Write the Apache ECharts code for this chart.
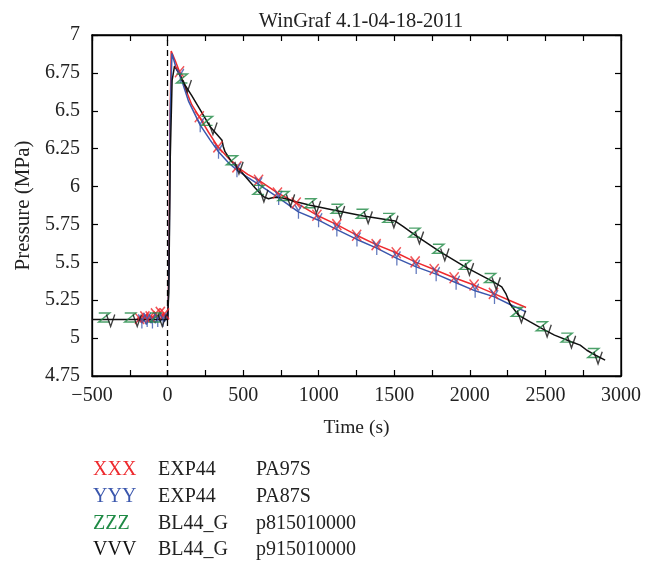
<!DOCTYPE html>
<html><head><meta charset="utf-8">
<script src="https://cdn.jsdelivr.net/npm/echarts@6/dist/echarts.min.js"></script>
<style>html,body{margin:0;padding:0;background:#fff}#c{width:658px;height:563px}</style>
</head><body><div id="c"></div>
<script>
// ---- data ----
var titleText = 'WinGraf 4.1-04-18-2011';
var xName = 'Time (s)';
var yName = 'Pressure (MPa)';
var xTicks = {min: -500, max: 3000, step: 250, labelStep: 500};
var yTicks = {min: 4.75, max: 7, step: 0.25};

var redLine = [[-205,5.12],[-190,5.14],[-178,5.11],[-165,5.15],[-150,5.12],[-138,5.16],[-122,5.11],[-108,5.15],[-95,5.13],[-80,5.17],[-66,5.12],[-52,5.18],[-40,5.13],[-28,5.17],[-15,5.14],[-5,5.16],[2,5.13],[10,5.6],[16,6.4],[24,6.895],[32,6.89],[51,6.83],[79,6.757],[120,6.64],[160,6.54],[210,6.46],[270,6.36],[333,6.262],[400,6.19],[459,6.13],[530,6.08],[602,6.042],[727,5.958],[851,5.892],[988,5.811],[1120,5.749],[1251,5.679],[1380,5.617],[1513,5.563],[1638,5.503],[1764,5.453],[1896,5.398],[2028,5.35],[2156,5.295],[2260,5.25],[2372,5.202]];
var redMarks = [[-185,5.13],[-150,5.14],[-115,5.14],[-80,5.16],[-48,5.17],[-20,5.16],[79,6.757],[210,6.46],[333,6.262],[459,6.13],[602,6.042],[727,5.958],[851,5.892],[988,5.811],[1120,5.749],[1251,5.679],[1380,5.617],[1513,5.563],[1638,5.503],[1764,5.453],[1896,5.398],[2028,5.35],[2156,5.295]];

var blueLine = [[-200,5.11],[-185,5.13],[-170,5.10],[-155,5.12],[-140,5.09],[-125,5.13],[-110,5.10],[-95,5.12],[-80,5.10],[-65,5.14],[-50,5.11],[-35,5.13],[-20,5.11],[-8,5.14],[2,5.12],[10,5.5],[18,6.5],[29,6.878],[40,6.84],[60,6.77],[84,6.73],[140,6.56],[216,6.405],[280,6.31],[337,6.229],[400,6.16],[459,6.108],[530,6.06],[602,6.015],[735,5.925],[866,5.833],[999,5.778],[1120,5.716],[1253,5.651],[1384,5.594],[1517,5.526],[1645,5.47],[1777,5.422],[1909,5.365],[2035,5.312],[2163,5.272],[2270,5.22],[2372,5.173]];
var blueMarks = [[-170,5.11],[-135,5.12],[-100,5.11],[-65,5.12],[-30,5.12],[84,6.73],[216,6.405],[337,6.229],[459,6.108],[602,6.015],[735,5.925],[866,5.833],[999,5.778],[1120,5.716],[1253,5.651],[1384,5.594],[1517,5.526],[1645,5.47],[1777,5.422],[1909,5.365],[2035,5.312],[2163,5.272]];

var blackLine = [[-500,5.123],[-300,5.123],[-100,5.123],[0,5.123],[8,5.3],[18,6.2],[30,6.7],[46,6.794],[70,6.76],[102,6.69],[160,6.6],[220,6.5],[282,6.394],[330,6.34],[360,6.306],[368,6.266],[380,6.23],[420,6.17],[459,6.13],[520,6.06],[580,5.99],[613,5.954],[640,5.93],[668,5.92],[700,5.928],[745,5.93],[850,5.9],[944,5.877],[1120,5.84],[1296,5.805],[1506,5.772],[1560,5.735],[1638,5.68],[1804,5.569],[1969,5.47],[2156,5.371],[2211,5.338],[2240,5.29],[2266,5.225],[2321,5.152],[2399,5.107],[2487,5.058],[2560,5.02],[2670,4.976],[2730,4.954],[2774,4.92],[2835,4.885],[2895,4.855]];
var greenMarks = [[-419,5.123],[-247,5.123],[-81,5.123],[95,6.70],[261,6.42],[426,6.16],[602,5.965],[767,5.925],[944,5.877],[1120,5.84],[1286,5.807],[1462,5.78],[1634,5.683],[1792,5.577],[1969,5.47],[2134,5.383],[2311,5.16],[2476,5.065],[2641,4.99],[2817,4.888]];
var blackMarks = [[-390,5.123],[-214,5.123],[-48,5.123],[117,6.67],[287,6.39],[459,6.13],[624,5.945],[800,5.915],[972,5.872],[1131,5.838],[1314,5.803],[1484,5.775],[1653,5.67],[1821,5.558],[1984,5.462],[2161,5.368],[2328,5.148],[2498,5.055],[2659,4.982],[2835,4.877]];

var legendKeys = ['XXX','YYY','ZZZ','VVV'];
var legendSource = ['EXP44','EXP44','BL44_G','BL44_G'];
var legendSensor = ['PA97S','PA87S','p815010000','p915010000'];
var seriesColors = ['#ee2a2e','#3b57ad','#1f8a45','#111111'];

// ---- chart ----
var FONT = 'Liberation Serif';
var chart = echarts.init(document.getElementById('c'), null, {renderer:'canvas'});
// letter-shaped marker paths (retraced so that implicit closing adds no extra stroke)
var sym = {
  X: 'path://M0 0L10 11L0 0M10 0L0 11L10 0',
  Y: 'path://M0 0L5 6L10 0L5 6L5 14L5 6L0 0',
  Z: 'path://M0 0L10 0L0 9L10 9L0 9L10 0L0 0',
  V: 'path://M0 0L5 12L10 0L5 12L0 0'
};
function lineSeries(data, color, z) {
  return {type:'line', data:data, showSymbol:false, symbol:'none', smooth:false,
    lineStyle:{color:color, width:1.5}, z:z, silent:true, animation:false};
}
function markSeries(data, color, symbol, size, offset) {
  return {type:'scatter', data:data, symbol:symbol, symbolSize:size, symbolKeepAspect:true,
    symbolOffset:offset || [0,0],
    itemStyle:{color:'rgba(0,0,0,0)', borderColor:color, borderWidth:1.5}, z:10, silent:true, animation:false};
}
var series = [
  lineSeries(redLine, seriesColors[0], 3),
  lineSeries(blueLine, seriesColors[1], 4),
  lineSeries(blackLine, seriesColors[3], 5),
  markSeries(redMarks, seriesColors[0], sym.X, [10,11]),
  markSeries(blueMarks, seriesColors[1], sym.Y, [10,14]),
  markSeries(greenMarks, seriesColors[2], sym.Z, [11,10], [0,-2]),
  markSeries(blackMarks, seriesColors[3], sym.V, [10,12], [2,1])
];
series[2].markLine = {silent:true, symbol:['none','none'], label:{show:false},
  lineStyle:{color:'#000', type:[6,4], width:1.3}, data:[{xAxis:0}], animation:false};

var graphics = [];
var cols = [93, 158, 256];
var rowsY = [470, 497, 523.5, 550];
for (var i = 0; i < legendKeys.length; i++) {
  var texts = [legendKeys[i], legendSource[i], legendSensor[i]];
  for (var j = 0; j < 3; j++) {
    graphics.push({type:'text', x:cols[j], y:rowsY[i], silent:true,
      style:{text:texts[j], font:'20px "' + FONT + '"', fill: j === 0 ? seriesColors[i] : '#222', verticalAlign:'middle', align:'left'}});
  }
}

function fmtX(v) {
  if (Math.round(v) % xTicks.labelStep !== 0) return '';
  return String(v).replace('-', '\u2212');
}
var axisCommon = {
  axisLine:{show:true, onZero:false, lineStyle:{color:'#000', width:1.3}},
  axisTick:{show:true, inside:true, length:6, lineStyle:{color:'#000', width:1.2}},
  splitLine:{show:false}
};
var option = {
  animation:false,
  backgroundColor:'#fff',
  title:{text:titleText, left:356, top:6, textAlign:'center',
    textStyle:{fontFamily:FONT, fontSize:20.5, fontWeight:'normal', color:'#222'}},
  grid:{left:92, right:37, top:35, bottom:187, show:true, borderColor:'#000', borderWidth:1.3},
  xAxis:[
    Object.assign({type:'value', min:xTicks.min, max:xTicks.max, interval:xTicks.step, position:'bottom',
      name:xName, nameLocation:'middle', nameGap:42,
      nameTextStyle:{fontFamily:FONT, fontSize:19.5, color:'#222'},
      axisLabel:{formatter:fmtX, fontFamily:FONT, fontSize:20, color:'#222', margin:10, showMinLabel:true, showMaxLabel:true}}, axisCommon),
    Object.assign({type:'value', min:xTicks.min, max:xTicks.max, interval:xTicks.step, position:'top',
      axisLabel:{show:false}}, axisCommon)
  ],
  yAxis:[
    Object.assign({type:'value', min:yTicks.min, max:yTicks.max, interval:yTicks.step, position:'left',
      name:yName, nameLocation:'middle', nameGap:55,
      nameTextStyle:{fontFamily:FONT, fontSize:21, color:'#222'},
      axisLabel:{fontFamily:FONT, fontSize:20, color:'#222', margin:12, showMinLabel:true, showMaxLabel:true}}, axisCommon),
    Object.assign({type:'value', min:yTicks.min, max:yTicks.max, interval:yTicks.step, position:'right',
      axisLabel:{show:false}}, axisCommon)
  ],
  graphic:graphics,
  series:series
};
chart.setOption(option);
</script></body></html>
